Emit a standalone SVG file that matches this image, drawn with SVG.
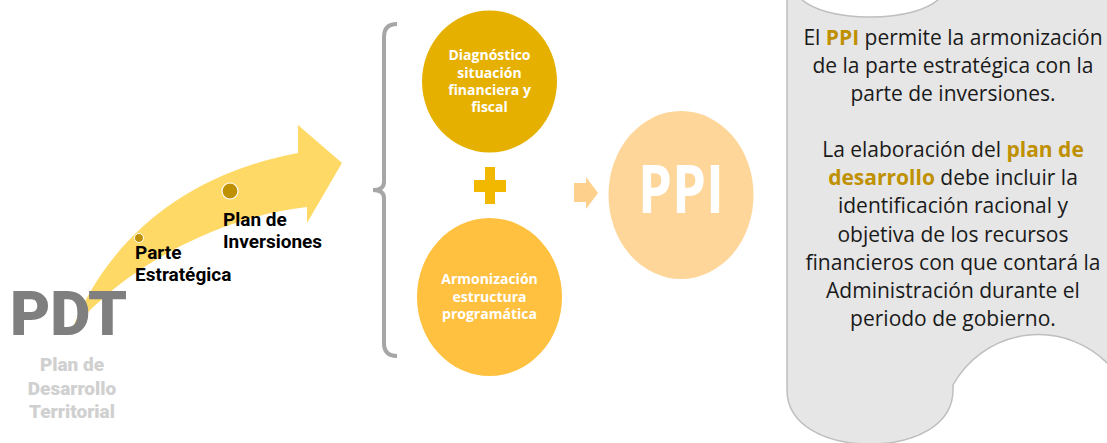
<svg xmlns="http://www.w3.org/2000/svg" width="1107" height="443" viewBox="0 0 1107 443">
<style>
.lbl{font-family:Roboto,"Liberation Sans",sans-serif;font-weight:700;font-size:19px;fill:#000000;}
.ctext{font-family:"Open Sans","Liberation Sans",sans-serif;font-weight:700;font-size:14px;fill:#ffffff;text-anchor:middle;}
.ptext{font-family:"Open Sans","Liberation Sans",sans-serif;font-size:21px;fill:#1a1a1a;text-anchor:middle;}
.hl{font-weight:700;fill:#bf9000;}
.heavy{font-family:Roboto,"Liberation Sans",sans-serif;font-weight:900;}
</style>
<rect width="1107" height="443" fill="#ffffff"/>
<g id="panel">
<path d="M787,-2 L800,-2 C812,10 838,17 870,17 C902,17 928,10 940,-2 L1110,-2 L1110,366 A97.5,97.5 0 0 0 953,385 L953,390 C953,425 915,444 870,444 C825,444 787,425 787,390 Z" fill="#e6e6e6" stroke="#bfbfbf" stroke-width="1.5"/>
<text class="ptext"><tspan x="953" y="45">El <tspan class="hl">PPI</tspan> permite la armonización</tspan><tspan x="953" y="73">de la parte estratégica con la</tspan><tspan x="953" y="101">parte de inversiones.</tspan><tspan x="953" y="157">La elaboración del <tspan class="hl">plan de</tspan></tspan><tspan x="953" y="185"><tspan class="hl">desarrollo</tspan> debe incluir la</tspan><tspan x="953" y="213">identificación racional y</tspan><tspan x="953" y="242">objetiva de los recursos</tspan><tspan x="953" y="270">financieros con que contará la</tspan><tspan x="953" y="298">Administración durante el</tspan><tspan x="953" y="326">periodo de gobierno.</tspan></text>
</g>
<g id="connectors">
<path id="main-arrow" d="M72,330 C105,245 180,175 298,153 L298,125 L342,163 L307,223 L307,207 C230,215 130,260 72,330 Z" fill="#ffd966"/>
<path id="brace" d="M397,24 Q384,24 384,37 L384,182 Q384,190 373,190 Q384,190 384,198 L384,343 Q384,356 397,356" fill="none" stroke="#a6a6a6" stroke-width="4"/>
<path id="small-arrow" d="M574,183 L586,183 L586,177 L598,193 L586,209 L586,202 L574,202 Z" fill="#fdd08b"/>
<g id="plus" fill="#f2b800"><rect x="485" y="167" width="10" height="37"/><rect x="474" y="180" width="32" height="12"/></g>
</g>
<g id="pdt">
<text class="heavy" x="10" y="335" font-size="62" fill="#7f7f7f" textLength="117" lengthAdjust="spacingAndGlyphs">PDT</text>
<text class="heavy" font-size="19" fill="#d0d0d0" text-anchor="middle"><tspan x="72" y="371">Plan de</tspan><tspan x="72" y="395">Desarrollo</tspan><tspan x="72" y="418">Territorial</tspan></text>
</g>
<g id="parte-estrategica">
<circle cx="139" cy="238" r="4.5" fill="#bf9000" stroke="#ffffff" stroke-width="1"/>
<text class="lbl"><tspan x="135" y="258.5">Parte</tspan><tspan x="135" y="281">Estratégica</tspan></text>
</g>
<g id="plan-inversiones">
<circle cx="230" cy="191" r="8" fill="#bf9000" stroke="#ffffff" stroke-width="1.2"/>
<text class="lbl"><tspan x="223" y="225.5">Plan de</tspan><tspan x="223" y="248">Inversiones</tspan></text>
</g>
<g id="diagnostico">
<ellipse cx="489.5" cy="81.5" rx="67.5" ry="71" fill="#e6b000"/>
<text class="ctext"><tspan x="489.5" y="60">Diagnóstico</tspan><tspan x="489.5" y="78">situación</tspan><tspan x="489.5" y="95">financiera y</tspan><tspan x="489.5" y="112">fiscal</tspan></text>
</g>
<g id="armonizacion">
<ellipse cx="489.5" cy="297" rx="72.5" ry="79" fill="#ffc13f"/>
<text class="ctext"><tspan x="489.5" y="284">Armonización</tspan><tspan x="489.5" y="302">estructura</tspan><tspan x="489.5" y="319">programática</tspan></text>
</g>
<g id="ppi">
<ellipse cx="681" cy="195" rx="72.5" ry="84" fill="#fed699"/>
<text x="681" y="213" text-anchor="middle" font-family="Open Sans, Liberation Sans, sans-serif" font-weight="700" font-size="66" fill="#ffffff" textLength="86" lengthAdjust="spacingAndGlyphs">PPI</text>
</g>
</svg>
